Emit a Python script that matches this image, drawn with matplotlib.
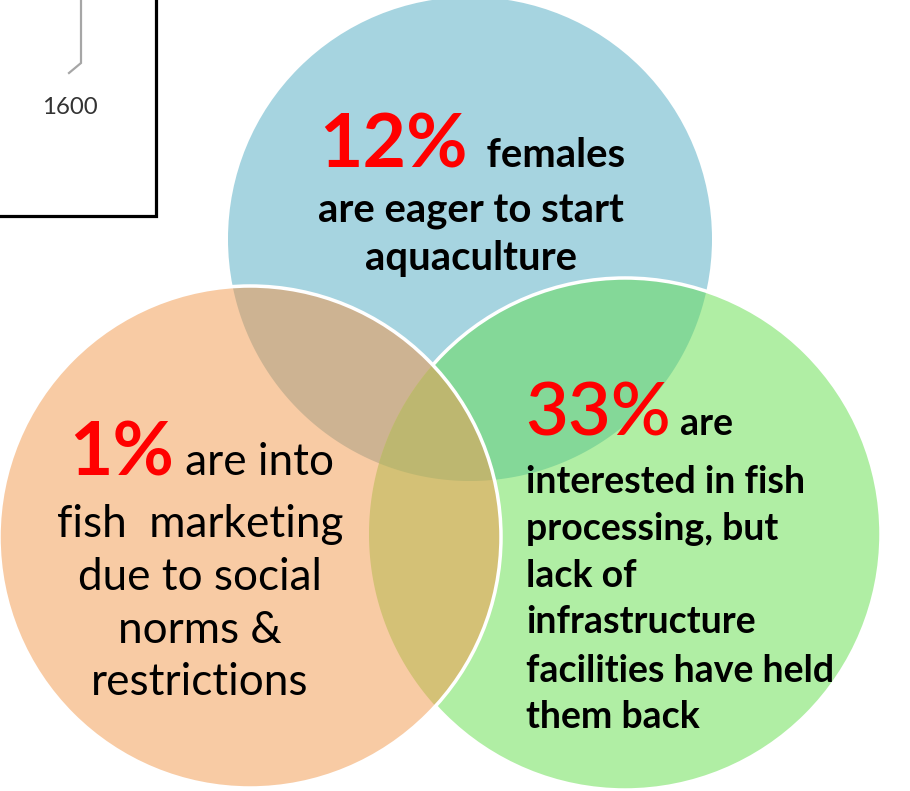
import numpy as np
import matplotlib
matplotlib.use("Agg")
import matplotlib.pyplot as plt
from matplotlib.patches import Circle, Polygon, Rectangle

# ---- data -------------------------------------------------------------
percents = [12, 1, 33]
headlines = ["females", "are into", "are"]
body_lines = [
    ["are eager to start", "aquaculture"],
    ["fish  marketing", "due to social", "norms &", "restrictions"],
    ["interested in fish", "processing, but", "lack of", "infrastructure",
     "facilities have held", "them back"],
]
axis_tick_label = "1600"

# ---- layout (pixel units, y grows downward) ---------------------------
W, H = 910, 791
circles = {
    "blue":   dict(c=(470, 239), r=242),
    "orange": dict(c=(250, 537), r=251),
    "green":  dict(c=(625, 534), r=256),
}
fill = {
    "blue": "#A6D4E0",
    "orange": "#F8CBA4",
    "green": "#B0EEA4",
    ("blue", "orange"): "#CDB392",
    ("blue", "green"): "#84D898",
    ("orange", "green"): "#D4C176",
    ("blue", "orange", "green"): "#BDB770",
}

fig = plt.figure(figsize=(W / 100, H / 100), dpi=100)
ax = fig.add_axes([0, 0, 1, 1])
ax.set_xlim(0, W)
ax.set_ylim(H, 0)
ax.axis("off")
renderer = fig.canvas.get_renderer()


def px(v):
    return v * 0.72


def region(names, n=3000):
    """Convex polygon for the intersection of the named circles."""
    pts = []
    for nm in names:
        (cx, cy), r = circles[nm]["c"], circles[nm]["r"]
        t = np.linspace(0, 2 * np.pi, n, endpoint=False)
        p = np.column_stack([cx + r * np.cos(t), cy + r * np.sin(t)])
        keep = np.ones(len(p), bool)
        for other in names:
            if other == nm:
                continue
            (ox, oy), orr = circles[other]["c"], circles[other]["r"]
            keep &= np.hypot(p[:, 0] - ox, p[:, 1] - oy) <= orr + 1e-6
        pts.append(p[keep])
    pts = np.vstack(pts)
    m = pts.mean(axis=0)
    order = np.argsort(np.arctan2(pts[:, 1] - m[1], pts[:, 0] - m[0]))
    return pts[order]


def disc(nm, **kw):
    return Circle(circles[nm]["c"], circles[nm]["r"], **kw)


# blue layer
ax.add_patch(disc("blue", facecolor=fill["blue"], edgecolor="none", zorder=1))
# green layer
ax.add_patch(disc("green", facecolor=fill["green"], edgecolor="none", zorder=2))
ax.add_patch(Polygon(region(["blue", "green"]), closed=True,
                     facecolor=fill[("blue", "green")], edgecolor="none", zorder=2))
ax.add_patch(disc("green", facecolor="none", edgecolor="white", lw=px(3.5), zorder=3))
# orange layer
ax.add_patch(disc("orange", facecolor=fill["orange"], edgecolor="none", zorder=4))
ax.add_patch(Polygon(region(["blue", "orange"]), closed=True,
                     facecolor=fill[("blue", "orange")], edgecolor="none", zorder=4))
ax.add_patch(Polygon(region(["orange", "green"]), closed=True,
                     facecolor=fill[("orange", "green")], edgecolor="none", zorder=4))
ax.add_patch(Polygon(region(["blue", "orange", "green"]), closed=True,
                     facecolor=fill[("blue", "orange", "green")], edgecolor="none",
                     zorder=4))
ax.add_patch(disc("orange", facecolor="none", edgecolor="white", lw=px(3.5), zorder=5))

# fragment of a neighbouring chart in the top-left corner
ax.add_patch(Rectangle((-20, -20), 176, 236, facecolor="none", edgecolor="black",
                       lw=px(3.2), zorder=6))
ax.plot([81, 81, 69], [-5, 63, 73], color="#A6A6A6", lw=px(2.2),
        solid_joinstyle="miter", zorder=6)
ax.text(70, 107, axis_tick_label, ha="center", va="center", fontsize=px(24),
        family="Lato", color="#333333", zorder=6)

FONT = "Lato"
RED = "#FF0000"


def run_line(segments, x, y, align="center"):
    """Draw text segments side by side on one baseline."""
    arts = []
    for s, kw in segments:
        arts.append(ax.text(0, y, s, ha="left", va="baseline", family=FONT,
                            zorder=7, **kw))
    widths = [a.get_window_extent(renderer).width for a in arts]
    total = sum(widths)
    x0 = x - total / 2 if align == "center" else x
    for a, w in zip(arts, widths):
        a.set_x(x0)
        x0 += w


big = dict(fontsize=px(75), fontweight="bold", color=RED)
big_mid = dict(fontsize=px(74), fontweight="semibold", color=RED)
bold = dict(fontsize=px(40), fontweight="bold", color="black")
reg = dict(fontsize=px(44), color="black")
gbold = dict(fontsize=px(37.5), fontweight="bold", color="black")

# blue circle text
run_line([(f"{percents[0]}%", big), ("  " + headlines[0], bold)], 472, 167)
for s, yb in zip(body_lines[0], [223, 270]):
    run_line([(s, bold)], 471, yb)

# orange circle text
run_line([(f"{percents[1]}%", big), (" " + headlines[1], reg)], 202, 475)
for s, yb in zip(body_lines[1], [537, 590, 643, 695]):
    run_line([(s, reg)], 200, yb)

# green circle text
run_line([(f"{percents[2]}%", big_mid), (" " + headlines[2], gbold)], 525, 435,
         align="left")
for s, yb in zip(body_lines[2], [493, 540, 587, 633, 682, 728]):
    run_line([(s, gbold)], 526, yb, align="left")

fig.savefig("out.png", dpi=100)
